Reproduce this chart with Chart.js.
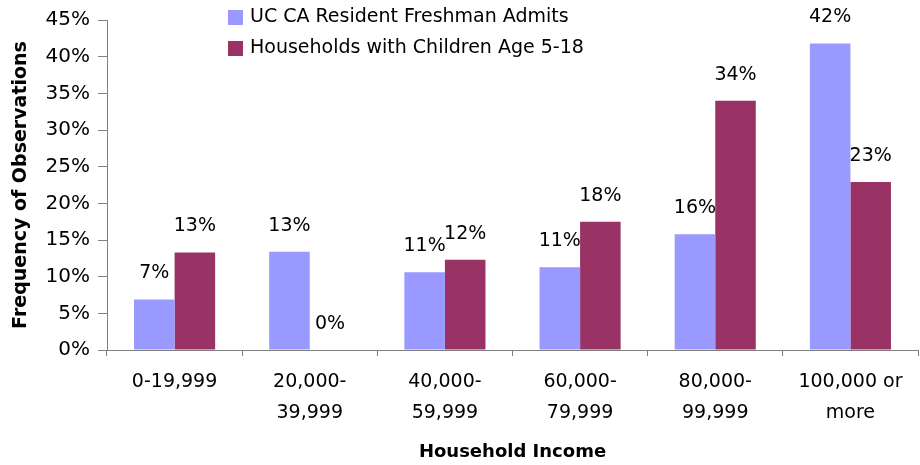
<html>
<head>
<title>Household Income</title>
<style>
html, body {
  margin:0px;
  background:#ffffff;
}
</style>
<script src="https://cdn.jsdelivr.net/npm/chart.js@4.4.1/dist/chart.umd.min.js"></script>
</head>
<body>
<div style="position: relative; width:920px; height:465px;">
<canvas id="myChart"></canvas>
</div>
<script>
// income brackets (x axis)
const incomeLabels = [
  '0-19,999',
  ['20,000-', '39,999'],
  ['40,000-', '59,999'],
  ['60,000-', '79,999'],
  ['80,000-', '99,999'],
  ['100,000 or', 'more']
];
// percent of observations per bracket
const ucAdmits = [6.9, 13.4, 10.6, 11.3, 15.8, 41.8];
const households = [13.3, 0, 12.3, 17.5, 34.0, 22.9];
const seriesNames = ['UC CA Resident Freshman Admits', 'Households with Children Age 5-18'];
const yTicksMax = 45;
const yTicksStep = 5;

const FONT = '"DejaVu Sans", Verdana, sans-serif';

// value labels above each bar
const barLabels = {
  id: 'barLabels',
  afterDatasetsDraw(chart) {
    const ctx = chart.ctx;
    ctx.save();
    ctx.font = '19px ' + FONT;
    ctx.fillStyle = '#000000';
    ctx.textAlign = 'center';
    ctx.textBaseline = 'alphabetic';
    chart.data.datasets.forEach((ds, i) => {
      chart.getDatasetMeta(i).data.forEach((bar, j) => {
        ctx.fillText(Math.round(ds.data[j]) + '%', bar.x, bar.y - 21);
      });
    });
    ctx.restore();
  }
};

// stacked legend at top of plot
const stackedLegend = {
  id: 'stackedLegend',
  afterDraw(chart) {
    const ctx = chart.ctx;
    ctx.save();
    ctx.font = '19px ' + FONT;
    ctx.textBaseline = 'middle';
    chart.data.datasets.forEach((ds, i) => {
      const y = 17 + i * 31;
      ctx.fillStyle = ds.backgroundColor;
      ctx.fillRect(228, y - 7, 15, 15);
      ctx.fillStyle = '#000000';
      ctx.fillText(ds.label, 250, y);
    });
    ctx.restore();
  }
};

const ctx = document.getElementById('myChart');
const myChart = new Chart(ctx, {
  type: 'bar',
  data: {
    labels: incomeLabels,
    datasets: [{
      label: seriesNames[0],
      data: ucAdmits,
      backgroundColor: '#9999FF',
      categoryPercentage: 0.6,
      barPercentage: 1.0
    }, {
      label: seriesNames[1],
      data: households,
      backgroundColor: '#993366',
      categoryPercentage: 0.6,
      barPercentage: 1.0
    }]
  },
  options: {
    responsive: true,
    maintainAspectRatio: false,
    animation: false,
    layout: {
      padding: {top: 17, right: 2, left: 0, bottom: 0}
    },
    plugins: {
      legend: {display: false},
      tooltip: {enabled: false}
    },
    scales: {
      x: {
        grid: {
          drawOnChartArea: false,
          drawTicks: true,
          tickLength: 6,
          color: '#808080',
          offset: true
        },
        border: {color: '#808080', width: 1},
        ticks: {
          color: '#000000',
          font: {family: FONT, size: 19, lineHeight: 1.6},
          maxRotation: 0,
          autoSkip: false,
          padding: 11
        },
        title: {
          display: true,
          text: 'Household Income',
          color: '#000000',
          font: {family: FONT, size: 18, weight: 'bold'},
          padding: {top: 0, bottom: 2}
        },
        afterFit(scale) { scale.height = 115; }
      },
      y: {
        min: 0,
        max: yTicksMax,
        grid: {
          drawOnChartArea: false,
          drawTicks: true,
          tickLength: 9,
          color: '#808080'
        },
        border: {color: '#808080', width: 1},
        ticks: {
          stepSize: yTicksStep,
          color: '#000000',
          font: {family: FONT, size: 20},
          padding: 8,
          callback: v => v + '%'
        },
        title: {
          display: true,
          text: 'Frequency of Observations',
          color: '#000000',
          font: {family: FONT, size: 19, weight: 'bold'},
          padding: {top: 10, bottom: 0}
        },
        afterFit(scale) { scale.width = 107; }
      }
    }
  },
  plugins: [barLabels, stackedLegend]
});
</script>
</body>
</html>
